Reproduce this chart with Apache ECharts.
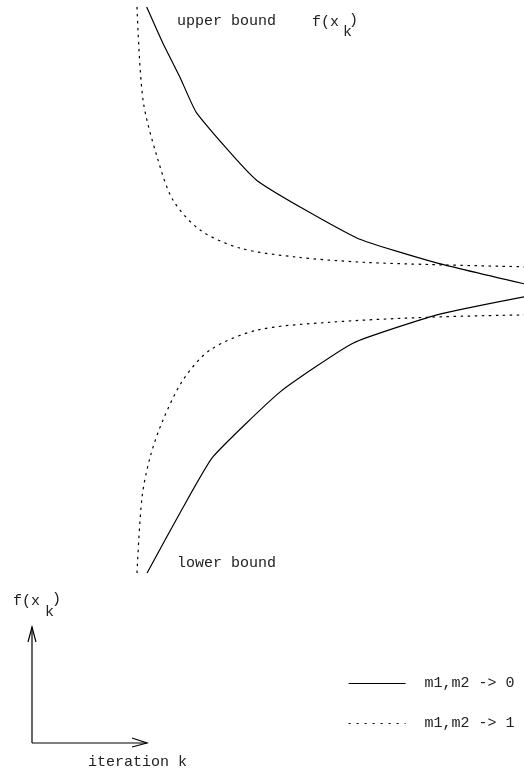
<!DOCTYPE html>
<html><head><meta charset="utf-8">
<script src="https://cdn.jsdelivr.net/npm/echarts@6/dist/echarts.min.js"></script>
<style>html,body{margin:0;padding:0;background:#fff}#c{width:524px;height:771px}</style>
</head><body><div id="c"></div>
<script>
// iteration k (0..10), f value (0..100 schematic units)
const upperSolid = [[0.25,100],[0.67,93.6],[1.11,87.6],[1.54,81.3],[3.09,69.4],[5.68,59.2],[7.74,54.8],[10,51.1]];
const upperDotted = [[0,100],[0.155,83.6],[0.52,73.5],[0.93,65.9],[1.63,60.6],[2.66,57.4],[4.13,55.8],[5.84,54.9],[7.57,54.5],[10,54.1]];
const lowerSolid = [[0.26,0],[1.11,10.6],[1.96,20.5],[3.70,32.0],[5.58,40.6],[7.75,45.6],[10,48.8]];
const lowerDotted = [[0,0],[0.13,13.4],[0.34,20.5],[0.67,27.0],[1.19,34.1],[1.89,39.4],[3.10,42.9],[4.99,44.3],[7.57,45.2],[10,45.6]];
const legendNames = ['m1,m2 -> 0','m1,m2 -> 1'];

const TXT = '#222';
function txt(t, x, y, size){
  return {type:'text', x:x, y:y, style:{text:t, font:(size||15)+'px "Liberation Mono", monospace', fill:TXT, textVerticalAlign:'middle'}};
}
const solidStyle = {color:'#000', width:1.2, type:'solid'};
const dotStyle = {color:'#000', width:1.2, type:[2.5,4.5]};

const chart = echarts.init(document.getElementById('c'), null, {renderer:'canvas'});
chart.setOption({
  animation:false,
  backgroundColor:'#fff',
  grid:{left:137, top:7, width:387, height:566},
  xAxis:{type:'value', min:0, max:10, show:false},
  yAxis:{type:'value', min:0, max:100, show:false},
  legend:{
    orient:'vertical', left:348, top:676, padding:0, itemWidth:57, itemHeight:14, itemGap:25,
    data:[
      {name:legendNames[0], lineStyle:{width:1, color:'#000', type:'solid'}},
      {name:legendNames[1], lineStyle:{width:1.2, color:'#000', type:[2,6]}}
    ],
    selectedMode:false,
    itemStyle:{color:'rgba(0,0,0,0)', borderWidth:0, opacity:0},
    textStyle:{fontFamily:'"Liberation Mono", monospace', fontSize:15, color:TXT, padding:[0,0,0,14]}
  },
  series:[
    {type:'line', name:legendNames[0], data:upperSolid, symbol:'none', lineStyle:solidStyle, itemStyle:{color:'#000'}, smooth:0.15},
    {type:'line', name:legendNames[0], data:lowerSolid, symbol:'none', lineStyle:solidStyle, itemStyle:{color:'#000'}, smooth:0.15},
    {type:'line', name:legendNames[1], data:upperDotted, symbol:'none', lineStyle:dotStyle, itemStyle:{color:'#000'}, smooth:0.3},
    {type:'line', name:legendNames[1], data:lowerDotted, symbol:'none', lineStyle:dotStyle, itemStyle:{color:'#000'}, smooth:0.3}
  ],
  graphic:[
    txt('upper bound', 177, 21),
    txt('f(x', 312, 22), txt('k', 343, 32), txt(')', 349, 20),
    txt('lower bound', 177, 563),
    txt('f(x', 13, 601), txt('k', 45, 612), txt(')', 52, 599),
    txt('iteration k', 88, 762),
    {type:'polyline', shape:{points:[[32,743],[32,627]]}, style:{stroke:'#000', lineWidth:1.2, fill:null}},
    {type:'polyline', shape:{points:[[28,642],[32,627],[36,642]]}, style:{stroke:'#000', lineWidth:1.2, fill:null}},
    {type:'polyline', shape:{points:[[32,743],[147,743]]}, style:{stroke:'#000', lineWidth:1.2, fill:null}},
    {type:'polyline', shape:{points:[[132,738],[147,743],[132,747]]}, style:{stroke:'#000', lineWidth:1.2, fill:null}}
  ]
});
</script></body></html>
